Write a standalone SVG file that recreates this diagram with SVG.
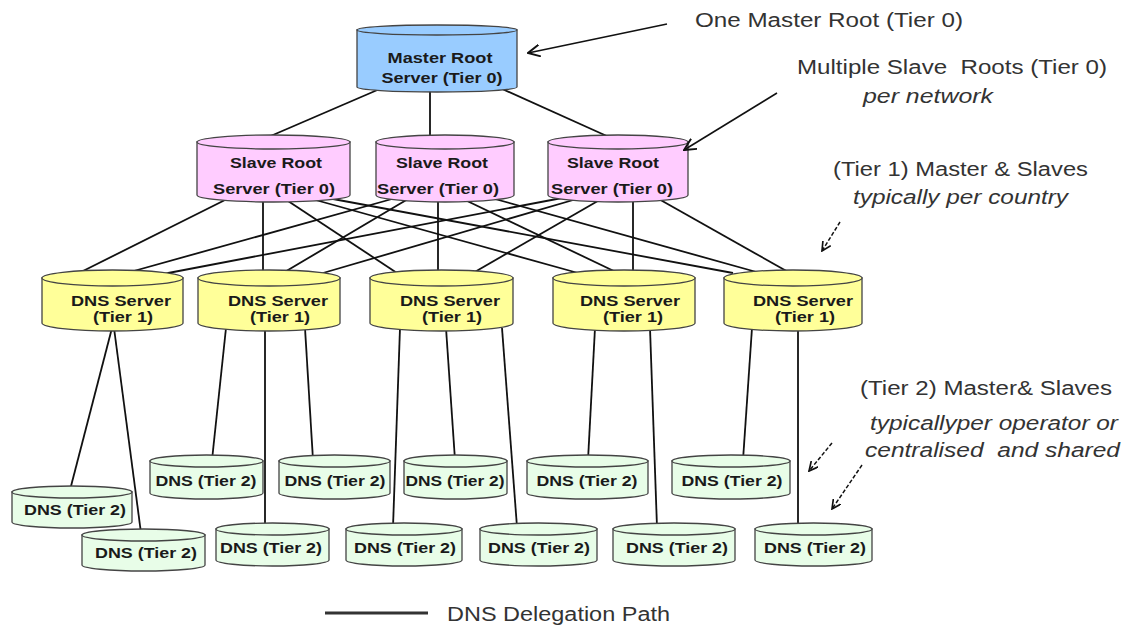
<svg xmlns="http://www.w3.org/2000/svg" width="1124" height="627" viewBox="0 0 1124 627">
<style>
.bg{fill:#ffffff}
.cyl{stroke:#444;stroke-width:1.3}
.mr{fill:#99ccff}
.sr{fill:#ffccff}
.t1{fill:#ffff99}
.t2{fill:#e8fde8}
.lbl{font-family:"Liberation Sans",Arial,sans-serif;font-weight:bold;font-size:15px;fill:#1a1a1a;text-anchor:middle}
.s14{font-size:14px}
.ann{font-family:"Liberation Sans",Arial,sans-serif;font-size:20px;fill:#333;white-space:pre}
.it{font-style:italic}
.ln{stroke:#111;stroke-width:1.8;fill:none}
.ar{stroke:#111;stroke-width:1.6;fill:none}
.da{stroke:#111;stroke-width:1.5;fill:none;stroke-dasharray:4 2}
</style>
<defs>
<marker id="ah" viewBox="0 0 12 12" refX="11" refY="6" markerWidth="13" markerHeight="13" markerUnits="userSpaceOnUse" orient="auto">
<path d="M0,0.5 L11,6 L0,11.5" fill="none" stroke="#111" stroke-width="1.8"/>
</marker>
<marker id="ahs" viewBox="0 0 12 12" refX="11" refY="6" markerWidth="10" markerHeight="10" markerUnits="userSpaceOnUse" orient="auto">
<path d="M0,0.5 L11,6 L0,11.5" fill="none" stroke="#111" stroke-width="2"/>
</marker>
</defs>
<rect class="bg" x="0" y="0" width="1124" height="627"/>

<g id="connectors">
<line class="ln" x1="382" y1="88" x2="266" y2="138"/>
<line class="ln" x1="430" y1="90" x2="430" y2="138"/>
<line class="ln" x1="500" y1="88" x2="609" y2="137"/>
<line class="ln" x1="227" y1="199" x2="77" y2="274"/>
<line class="ln" x1="263" y1="199" x2="263" y2="273"/>
<line class="ln" x1="285" y1="199" x2="397" y2="273"/>
<line class="ln" x1="312" y1="199" x2="578" y2="273"/>
<line class="ln" x1="333" y1="199" x2="733" y2="273"/>
<line class="ln" x1="392" y1="199" x2="123" y2="274"/>
<line class="ln" x1="408" y1="199" x2="283" y2="273"/>
<line class="ln" x1="438" y1="199" x2="438" y2="273"/>
<line class="ln" x1="463" y1="199" x2="618" y2="273"/>
<line class="ln" x1="495" y1="199" x2="760" y2="273"/>
<line class="ln" x1="562" y1="198" x2="163" y2="274"/>
<line class="ln" x1="580" y1="198" x2="323" y2="273"/>
<line class="ln" x1="603" y1="198" x2="473" y2="273"/>
<line class="ln" x1="633" y1="198" x2="633" y2="273"/>
<line class="ln" x1="657" y1="198" x2="790" y2="273"/>
<line class="ln" x1="112" y1="328" x2="70" y2="490"/>
<line class="ln" x1="114" y1="328" x2="141" y2="533"/>
<line class="ln" x1="226" y1="328" x2="212" y2="460"/>
<line class="ln" x1="265" y1="328" x2="265" y2="527"/>
<line class="ln" x1="305" y1="328" x2="313" y2="460"/>
<line class="ln" x1="400" y1="328" x2="393" y2="527"/>
<line class="ln" x1="446" y1="328" x2="455" y2="460"/>
<line class="ln" x1="502" y1="328" x2="517" y2="527"/>
<line class="ln" x1="595" y1="328" x2="588" y2="460"/>
<line class="ln" x1="650" y1="328" x2="657" y2="527"/>
<line class="ln" x1="752" y1="328" x2="743" y2="460"/>
<line class="ln" x1="798" y1="328" x2="798" y2="527"/>
</g>

<g id="master-root">
<path class="cyl mr" d="M357,30 V87 A80,5 0 0 0 517,87 V30 Z"/>
<ellipse class="cyl mr" cx="437" cy="30" rx="80" ry="5"/>
<text class="lbl" x="440" y="63" textLength="105" lengthAdjust="spacingAndGlyphs">Master Root</text>
<text class="lbl" x="442" y="83" textLength="121" lengthAdjust="spacingAndGlyphs">Server (Tier 0)</text>
</g>

<g id="slave-root-1">
<path class="cyl sr" d="M197,142 V195 A76.5,7 0 0 0 350,195 V142 Z"/>
<ellipse class="cyl sr" cx="273.5" cy="142" rx="76.5" ry="7"/>
<text class="lbl" x="276" y="168" textLength="92" lengthAdjust="spacingAndGlyphs">Slave Root</text>
<text class="lbl" x="274" y="194" textLength="122" lengthAdjust="spacingAndGlyphs">Server (Tier 0)</text>
</g>
<g id="slave-root-2">
<path class="cyl sr" d="M376,142 V195 A69,7 0 0 0 514,195 V142 Z"/>
<ellipse class="cyl sr" cx="445" cy="142" rx="69" ry="7"/>
<text class="lbl" x="442" y="168" textLength="92" lengthAdjust="spacingAndGlyphs">Slave Root</text>
<text class="lbl" x="438" y="194" textLength="122" lengthAdjust="spacingAndGlyphs">Server (Tier 0)</text>
</g>
<g id="slave-root-3">
<path class="cyl sr" d="M548,142 V195 A70,7 0 0 0 688,195 V142 Z"/>
<ellipse class="cyl sr" cx="618" cy="142" rx="70" ry="7"/>
<text class="lbl" x="613" y="168" textLength="92" lengthAdjust="spacingAndGlyphs">Slave Root</text>
<text class="lbl" x="612" y="194" textLength="122" lengthAdjust="spacingAndGlyphs">Server (Tier 0)</text>
</g>

<g id="tier1-a">
<path class="cyl t1" d="M42,278 V323 A70.5,8 0 0 0 183,323 V278 Z"/>
<ellipse class="cyl t1" cx="112.5" cy="278" rx="70.5" ry="8"/>
<text class="lbl s14" x="121" y="306" textLength="100" lengthAdjust="spacingAndGlyphs">DNS Server</text>
<text class="lbl s14" x="123" y="322" textLength="60" lengthAdjust="spacingAndGlyphs">(Tier 1)</text>
</g>
<g id="tier1-b">
<path class="cyl t1" d="M198,278 V323 A71,8 0 0 0 340,323 V278 Z"/>
<ellipse class="cyl t1" cx="269" cy="278" rx="71" ry="8"/>
<text class="lbl s14" x="278" y="306" textLength="100" lengthAdjust="spacingAndGlyphs">DNS Server</text>
<text class="lbl s14" x="280" y="322" textLength="60" lengthAdjust="spacingAndGlyphs">(Tier 1)</text>
</g>
<g id="tier1-c">
<path class="cyl t1" d="M370,278 V323 A71.5,8 0 0 0 513,323 V278 Z"/>
<ellipse class="cyl t1" cx="441.5" cy="278" rx="71.5" ry="8"/>
<text class="lbl s14" x="450" y="306" textLength="100" lengthAdjust="spacingAndGlyphs">DNS Server</text>
<text class="lbl s14" x="452" y="322" textLength="60" lengthAdjust="spacingAndGlyphs">(Tier 1)</text>
</g>
<g id="tier1-d">
<path class="cyl t1" d="M553,278 V323 A71,8 0 0 0 695,323 V278 Z"/>
<ellipse class="cyl t1" cx="624" cy="278" rx="71" ry="8"/>
<text class="lbl s14" x="630" y="306" textLength="100" lengthAdjust="spacingAndGlyphs">DNS Server</text>
<text class="lbl s14" x="633" y="322" textLength="60" lengthAdjust="spacingAndGlyphs">(Tier 1)</text>
</g>
<g id="tier1-e">
<path class="cyl t1" d="M724,278 V323 A69,8 0 0 0 862,323 V278 Z"/>
<ellipse class="cyl t1" cx="793" cy="278" rx="69" ry="8"/>
<text class="lbl s14" x="803" y="306" textLength="100" lengthAdjust="spacingAndGlyphs">DNS Server</text>
<text class="lbl s14" x="805" y="322" textLength="60" lengthAdjust="spacingAndGlyphs">(Tier 1)</text>
</g>

<g id="tier2-u1">
<path class="cyl t2" d="M150,461 V493 A56.5,6 0 0 0 263,493 V461 Z"/>
<ellipse class="cyl t2" cx="206.5" cy="461" rx="56.5" ry="6"/>
<text class="lbl" x="206" y="486" textLength="101" lengthAdjust="spacingAndGlyphs">DNS (Tier 2)</text>
</g>
<g id="tier2-u2">
<path class="cyl t2" d="M279,461 V493 A55.5,6 0 0 0 390,493 V461 Z"/>
<ellipse class="cyl t2" cx="334.5" cy="461" rx="55.5" ry="6"/>
<text class="lbl" x="335" y="486" textLength="101" lengthAdjust="spacingAndGlyphs">DNS (Tier 2)</text>
</g>
<g id="tier2-u3">
<path class="cyl t2" d="M404,461 V493 A51.5,6 0 0 0 507,493 V461 Z"/>
<ellipse class="cyl t2" cx="455.5" cy="461" rx="51.5" ry="6"/>
<text class="lbl" x="455" y="486" textLength="99" lengthAdjust="spacingAndGlyphs">DNS (Tier 2)</text>
</g>
<g id="tier2-u4">
<path class="cyl t2" d="M527,461 V493 A60.5,6 0 0 0 648,493 V461 Z"/>
<ellipse class="cyl t2" cx="587.5" cy="461" rx="60.5" ry="6"/>
<text class="lbl" x="587" y="486" textLength="101" lengthAdjust="spacingAndGlyphs">DNS (Tier 2)</text>
</g>
<g id="tier2-u5">
<path class="cyl t2" d="M672,461 V493 A59,6 0 0 0 790,493 V461 Z"/>
<ellipse class="cyl t2" cx="731" cy="461" rx="59" ry="6"/>
<text class="lbl" x="732" y="486" textLength="101" lengthAdjust="spacingAndGlyphs">DNS (Tier 2)</text>
</g>

<g id="tier2-a">
<path class="cyl t2" d="M12,492 V522 A60,6 0 0 0 132,522 V492 Z"/>
<ellipse class="cyl t2" cx="72" cy="492" rx="60" ry="6"/>
<text class="lbl" x="75" y="515" textLength="102" lengthAdjust="spacingAndGlyphs">DNS (Tier 2)</text>
</g>
<g id="tier2-b">
<path class="cyl t2" d="M82,535 V565 A61.5,6 0 0 0 205,565 V535 Z"/>
<ellipse class="cyl t2" cx="143.5" cy="535" rx="61.5" ry="6"/>
<text class="lbl" x="146" y="558" textLength="102" lengthAdjust="spacingAndGlyphs">DNS (Tier 2)</text>
</g>
<g id="tier2-l1">
<path class="cyl t2" d="M216,529 V560 A56.5,6 0 0 0 329,560 V529 Z"/>
<ellipse class="cyl t2" cx="272.5" cy="529" rx="56.5" ry="6"/>
<text class="lbl" x="271" y="553" textLength="102" lengthAdjust="spacingAndGlyphs">DNS (Tier 2)</text>
</g>
<g id="tier2-l2">
<path class="cyl t2" d="M346,529 V560 A58,6 0 0 0 462,560 V529 Z"/>
<ellipse class="cyl t2" cx="404" cy="529" rx="58" ry="6"/>
<text class="lbl" x="405" y="553" textLength="102" lengthAdjust="spacingAndGlyphs">DNS (Tier 2)</text>
</g>
<g id="tier2-l3">
<path class="cyl t2" d="M480,529 V560 A58.5,6 0 0 0 597,560 V529 Z"/>
<ellipse class="cyl t2" cx="538.5" cy="529" rx="58.5" ry="6"/>
<text class="lbl" x="539" y="553" textLength="102" lengthAdjust="spacingAndGlyphs">DNS (Tier 2)</text>
</g>
<g id="tier2-l4">
<path class="cyl t2" d="M613,529 V560 A61,6 0 0 0 735,560 V529 Z"/>
<ellipse class="cyl t2" cx="674" cy="529" rx="61" ry="6"/>
<text class="lbl" x="677" y="553" textLength="102" lengthAdjust="spacingAndGlyphs">DNS (Tier 2)</text>
</g>
<g id="tier2-l5">
<path class="cyl t2" d="M755,529 V560 A58.5,6 0 0 0 872,560 V529 Z"/>
<ellipse class="cyl t2" cx="813.5" cy="529" rx="58.5" ry="6"/>
<text class="lbl" x="815" y="553" textLength="102" lengthAdjust="spacingAndGlyphs">DNS (Tier 2)</text>
</g>

<g id="annotations">
<line class="ar" x1="667" y1="24" x2="528" y2="53" marker-end="url(#ah)"/>
<line class="ar" x1="777" y1="93" x2="684" y2="150" marker-end="url(#ah)"/>
<line class="da" x1="840" y1="222" x2="822" y2="251" marker-end="url(#ahs)"/>
<line class="da" x1="832" y1="443" x2="809" y2="471" marker-end="url(#ahs)"/>
<line class="da" x1="862" y1="465" x2="832" y2="509" marker-end="url(#ahs)"/>
<text class="ann" x="695" y="27" textLength="268" lengthAdjust="spacingAndGlyphs">One Master Root (Tier 0)</text>
<text class="ann" x="797" y="74" textLength="310" lengthAdjust="spacingAndGlyphs">Multiple Slave  Roots (Tier 0)</text>
<text class="ann it" x="863" y="103" textLength="130" lengthAdjust="spacingAndGlyphs">per network</text>
<text class="ann" x="833" y="176" textLength="255" lengthAdjust="spacingAndGlyphs">(Tier 1) Master &amp; Slaves</text>
<text class="ann it" x="853" y="204" textLength="215" lengthAdjust="spacingAndGlyphs">typically per country</text>
<text class="ann" x="860" y="395" textLength="252" lengthAdjust="spacingAndGlyphs">(Tier 2) Master&amp; Slaves</text>
<text class="ann it" x="870" y="430" textLength="248" lengthAdjust="spacingAndGlyphs">typicallyper operator or</text>
<text class="ann it" x="865" y="457" textLength="255" lengthAdjust="spacingAndGlyphs">centralised  and shared</text>
</g>

<g id="legend">
<line x1="325" y1="613" x2="428" y2="613" stroke="#333" stroke-width="3"/>
<text class="ann" x="447" y="621" textLength="223" lengthAdjust="spacingAndGlyphs">DNS Delegation Path</text>
</g>
</svg>
